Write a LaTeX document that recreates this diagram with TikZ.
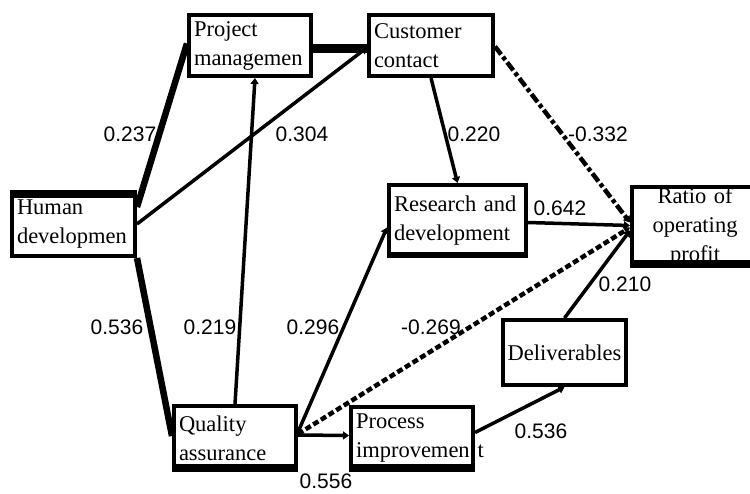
\documentclass[tikz,border=0pt]{standalone}
\usepackage{fontspec}
\setmainfont{Liberation Serif}
\newfontfamily\numfont{Liberation Sans}
\usetikzlibrary{arrows.meta,calc}
\begin{document}
\begin{tikzpicture}[x=1pt,y=-1pt,
  box/.style={draw, line width=4pt, inner sep=0pt, font=\fontsize{22.5}{29}\selectfont, align=left},
  conn/.style={line width=3.5pt, -{Triangle[length=6pt,width=8pt]}},
  thickconn/.style={line width=6.5pt},
  dashdotconn/.style={line width=4.5pt, dash pattern=on 10pt off 3pt on 4pt off 3pt, -{Triangle[length=6pt,width=8pt]}},
  dashconn/.style={line width=4.5pt, dash pattern=on 6pt off 3pt, -{Triangle[length=6pt,width=8pt]}},
  lab/.style={font=\numfont\fontsize{21}{24}\selectfont, inner sep=0pt}]
\useasboundingbox (0,0) rectangle (750,493);
\clip (0,0) rectangle (750,493);

% boxes
\node[box, minimum width=122pt, minimum height=61pt, text width=112pt] (pm) at (250,45.5) {Project\\managemen};
\node[box, minimum width=124pt, minimum height=61pt, text width=114pt] (cc) at (431,45.5) {Customer\\contact};
\node[box, minimum width=123pt, minimum height=64pt, text width=113pt] (hd) at (73.5,224) {Human\\developmen};
\node[box, minimum width=137pt, minimum height=71pt, text width=127pt] (rd) at (457.5,220.5) {Research and\\development};
\node[box, minimum width=126pt, minimum height=79pt, text width=110pt, align=center] (rp) at (695,226.5) {Ratio of\\operating\\profit};
\node[box, minimum width=123pt, minimum height=65pt, text width=119pt, align=center] (dl) at (564.5,352.5) {Deliverables};
\node[box, minimum width=122pt, minimum height=64pt, text width=112pt] (qa) at (235,438) {Quality\\assurance};
\node[box, minimum width=122pt, minimum height=63pt, text width=112pt] (pi) at (412,438.5) {Process\\improvemen\kern8pt t};

% thicker sides
\fill (hd.north west) rectangle ([yshift=-8pt]hd.north east);
\fill ([yshift=8pt]qa.south west) rectangle (qa.south east);
\fill ([yshift=8pt]pi.south west) rectangle (pi.south east);
\fill ([yshift=8pt]rp.south west) rectangle (rp.south east);
\fill ([yshift=6pt]rd.south west) rectangle (rd.south east);

% connectors
\draw[thickconn] ([yshift=-17pt]hd.north east) -- ([yshift=2pt]pm.west);
\draw[conn] (hd.east) -- ([yshift=-2pt]cc.west);
\draw[line width=9pt] ([yshift=-3pt]pm.east) -- ([yshift=-3pt]cc.west);
\draw[conn] (qa.north) -- ([xshift=5pt]pm.south);
\draw[thickconn] (hd.south east) -- ([yshift=2pt]qa.west);
\draw[conn] (cc.south) -- (rd.north);
\draw[dashdotconn] ([yshift=-1pt]cc.east) -- ([yshift=4pt]rp.west);
\draw[conn] ([yshift=-2pt]rd.east) -- ([yshift=1pt]rp.west);
\draw[conn] ([yshift=6pt]qa.east) -- ([yshift=-7pt]rd.west);
\draw[dashconn] ([yshift=4pt]qa.east) -- ([yshift=-1pt]rp.west);
\draw[conn] ([yshift=3pt]qa.east) -- ([yshift=3pt]pi.west);
\draw[conn] ([yshift=6pt]pi.east) -- (dl.south);
\draw[conn] (dl.north) -- ([yshift=-4pt]rp.west);

% labels
\node[lab] (l1) at (130,134) {0.237};
\node[lab] (l2) at (302,134) {0.304};
\node[lab] (l3) at (474,134) {0.220};
\node[lab] (l4) at (598,134) {-0.332};
\node[lab] (l5) at (560,208) {0.642};
\node[lab] (l6) at (625,284) {0.210};
\node[lab] (l7) at (117,327) {0.536};
\node[lab] (l8) at (210,327) {0.219};
\node[lab] (l9) at (313,327) {0.296};
\node[lab] (l10) at (431,327) {-0.269};
\node[lab] (l11) at (326,481) {0.556};
\node[lab] (l12) at (541,431) {0.536};
\end{tikzpicture}
\end{document}
